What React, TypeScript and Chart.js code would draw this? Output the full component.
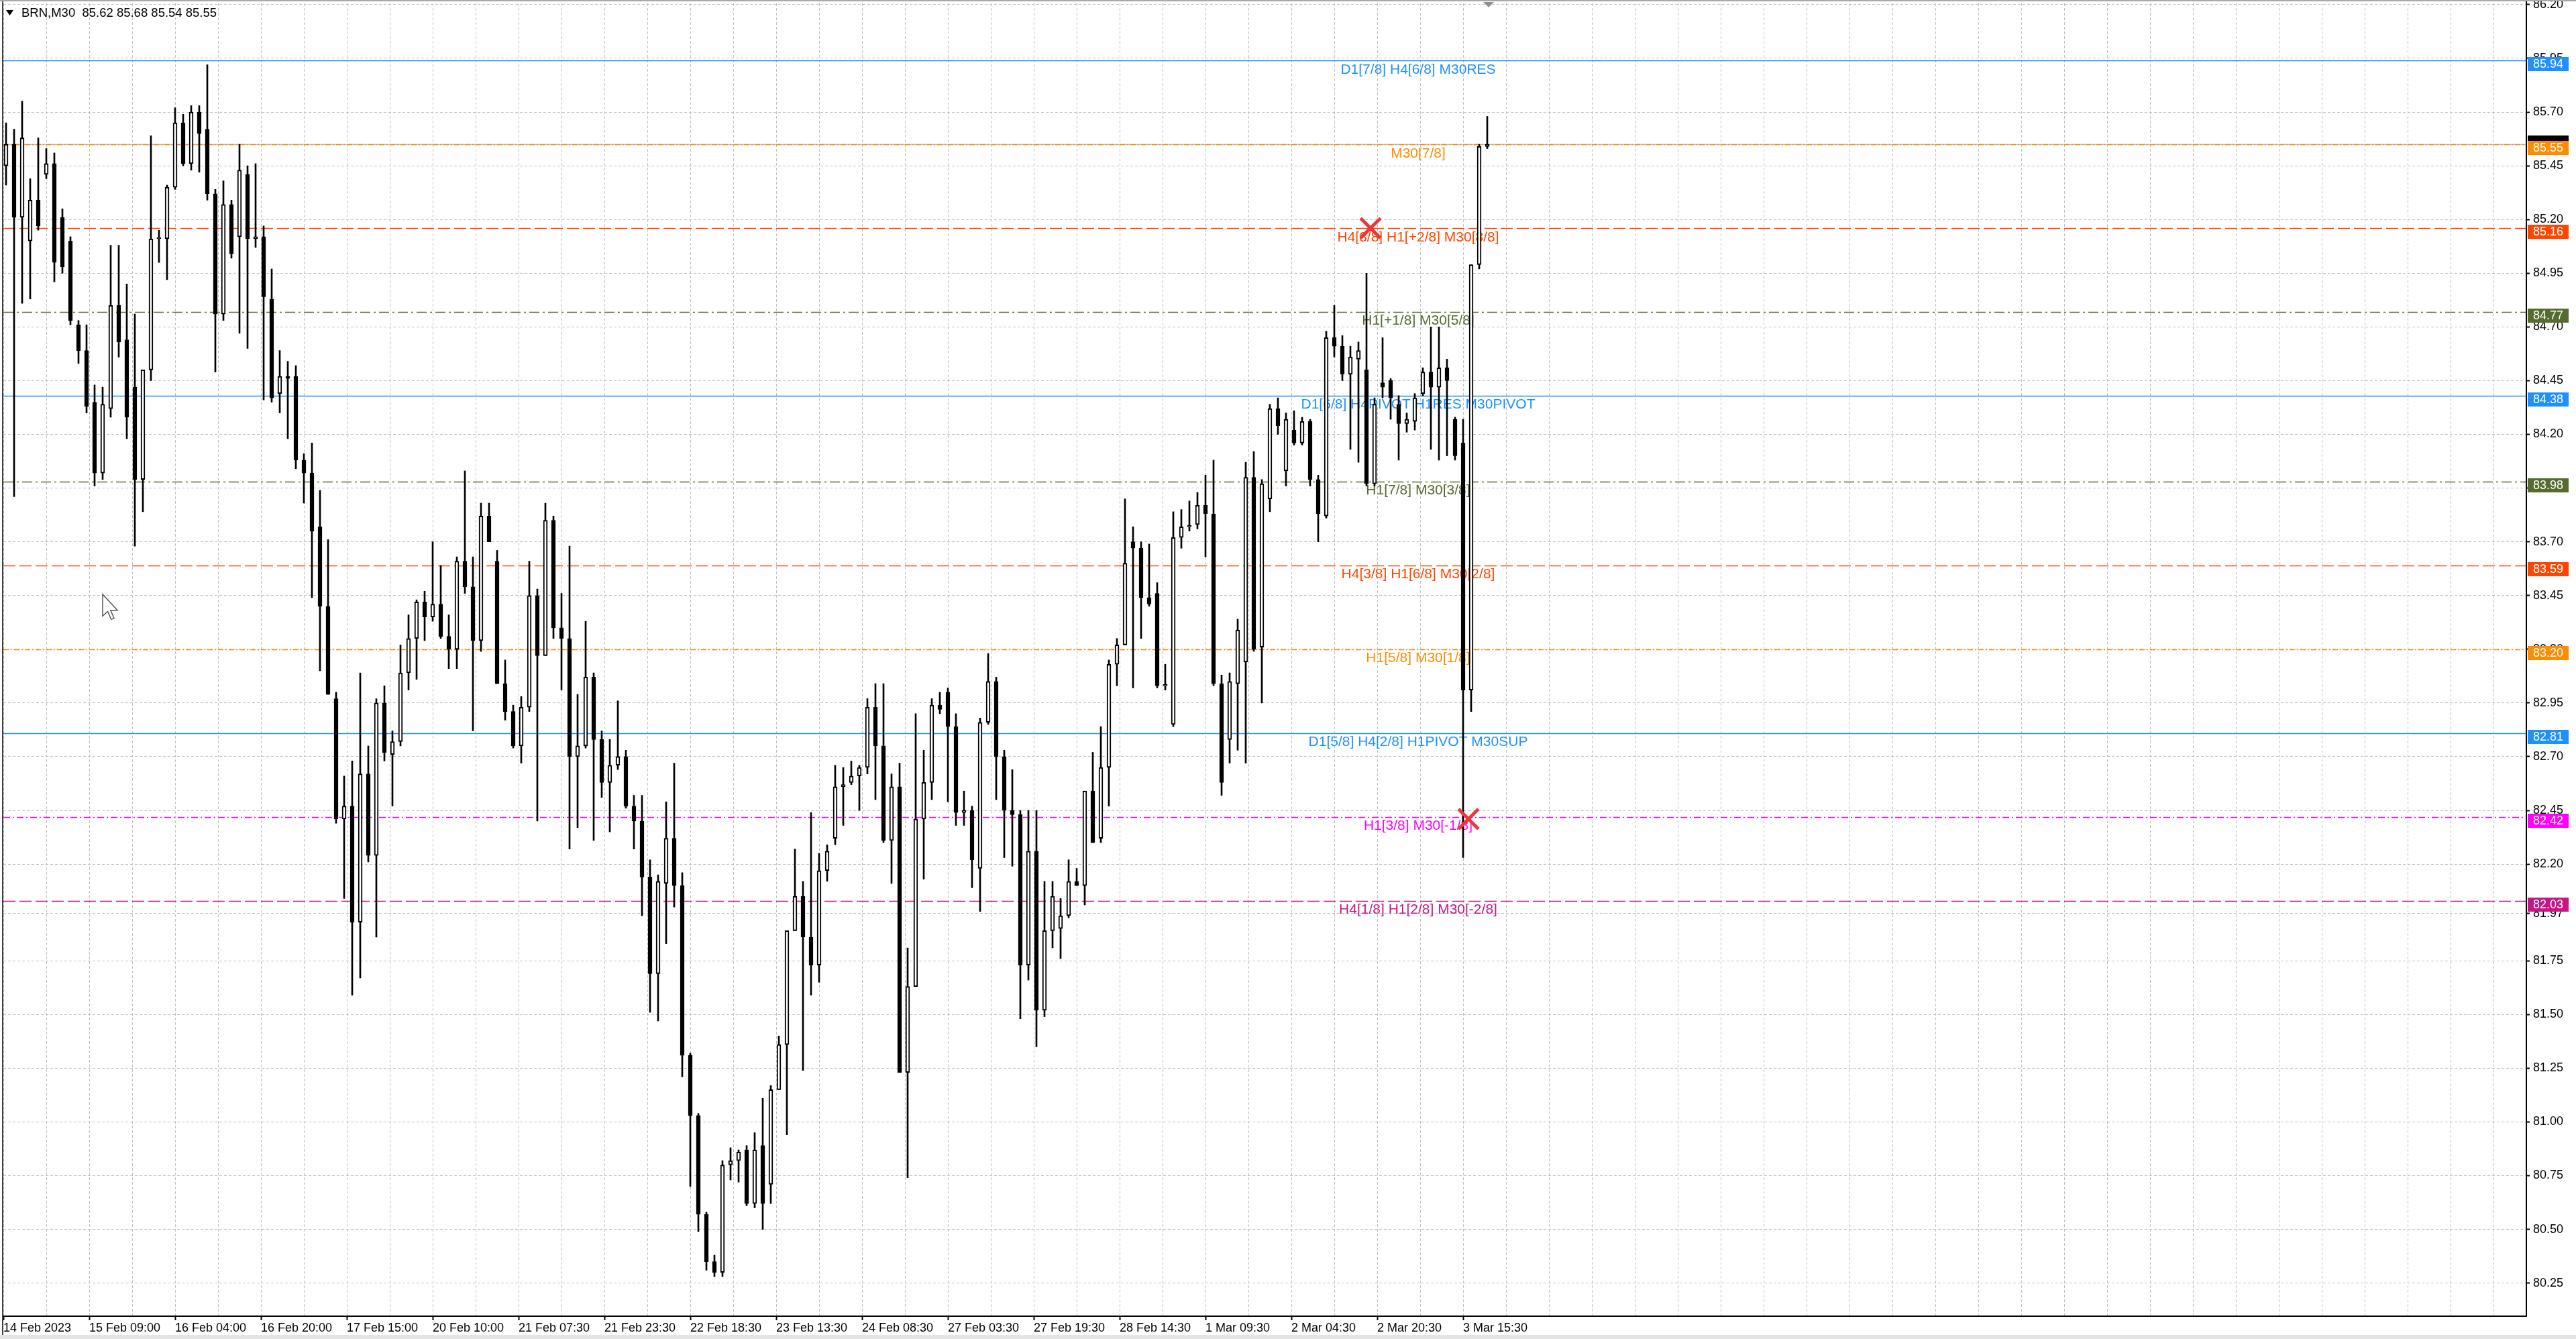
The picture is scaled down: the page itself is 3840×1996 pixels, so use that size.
import { useEffect, useRef } from 'react'
import { Chart, registerables } from 'chart.js'

Chart.register(...registerables)

const opens = [
  85.45, 85.55, 85.21, 85.10, 85.29, 85.41, 85.46, 85.21, 85.10, 84.71, 84.59, 84.35, 84.02, 84.32, 84.80, 84.64,
  84.42, 83.99, 84.50, 85.11, 85.11, 85.35, 85.65, 85.46, 85.70, 85.62, 85.32, 84.76, 85.27, 85.12, 85.41, 85.11,
  85.12, 84.83, 84.39, 84.47, 84.47, 84.08, 84.02, 83.77, 83.40, 82.97, 82.41, 82.47, 81.93, 82.62, 82.24, 82.95,
  82.71, 82.77, 83.09, 83.25, 83.42, 83.35, 83.41, 83.26, 83.20, 83.61, 83.49, 83.24, 83.82, 83.61, 83.04, 82.91,
  82.75, 82.93, 83.45, 83.17, 83.80, 83.30, 83.25, 82.70, 82.75, 83.07, 82.78, 82.58, 82.66, 82.70, 82.47, 82.40,
  82.14, 81.69, 82.11, 82.32, 82.10, 81.31, 81.03, 80.57, 80.35, 80.30, 80.80, 80.82, 80.87, 80.62, 80.89, 80.71,
  81.15, 81.36, 81.89, 82.05, 81.86, 81.73, 82.17, 82.32, 82.56, 82.58, 82.61, 82.65, 82.93, 82.75, 82.31, 82.56,
  81.23, 81.63, 82.41, 82.58, 82.94, 83.00, 82.84, 82.44, 82.45, 82.18, 82.86, 83.05, 82.70, 82.45, 82.43, 81.73,
  82.26, 81.52, 81.89, 81.90, 81.96, 82.12, 82.10, 82.54, 82.32, 82.65, 83.13, 83.22, 83.70, 83.67, 83.44, 83.46,
  83.03, 82.85, 83.72, 83.77, 83.78, 83.87, 83.83, 83.04, 82.78, 83.04, 83.14, 84.00, 83.21, 83.90, 84.32, 84.03,
  84.22, 84.16, 84.26, 83.99, 83.82, 84.65, 84.61, 84.48, 84.55, 84.50, 83.97, 84.44, 84.45, 84.34, 84.25, 84.26,
  84.39, 84.49, 84.42, 84.51, 84.27, 84.16, 83.01, 84.99, 85.54,
]
const highs = [
  85.65, 85.62, 85.75, 85.39, 85.58, 85.53, 85.51, 85.25, 85.12, 84.73, 84.71, 84.43, 84.42, 85.08, 85.08, 84.90,
  84.76, 84.28, 85.59, 85.15, 85.36, 85.72, 85.69, 85.73, 85.73, 85.92, 85.34, 85.38, 85.29, 85.55, 85.45, 85.46,
  85.17, 84.97, 84.59, 84.54, 84.52, 84.11, 84.16, 83.94, 83.71, 83.00, 82.61, 82.68, 83.09, 82.75, 82.97, 83.03,
  82.82, 83.22, 83.36, 83.43, 83.47, 83.70, 83.59, 83.36, 83.63, 84.03, 83.63, 83.88, 83.88, 83.66, 83.15, 82.94,
  82.98, 83.61, 83.48, 83.88, 83.82, 83.46, 83.68, 82.99, 83.33, 83.09, 82.82, 82.78, 82.96, 82.73, 82.52, 82.52,
  82.22, 82.15, 82.49, 82.67, 82.16, 81.32, 81.04, 80.58, 80.38, 80.82, 80.88, 80.87, 80.89, 80.95, 81.11, 81.17,
  81.40, 81.89, 82.27, 82.12, 82.44, 82.25, 82.29, 82.66, 82.65, 82.68, 82.66, 82.97, 83.04, 83.04, 82.62, 82.67,
  81.81, 82.90, 82.73, 82.97, 83.00, 83.02, 82.90, 82.54, 82.47, 82.88, 83.18, 83.07, 82.73, 82.64, 82.45, 82.45,
  82.45, 82.12, 82.12, 82.04, 82.22, 82.18, 82.54, 82.72, 82.84, 83.15, 83.25, 83.90, 83.77, 83.70, 83.69, 83.51,
  83.13, 83.84, 83.85, 83.89, 83.93, 84.01, 84.08, 83.08, 83.09, 83.34, 84.07, 84.12, 83.99, 84.34, 84.37, 84.30,
  84.31, 84.28, 84.27, 84.01, 84.68, 84.80, 84.66, 84.61, 84.63, 84.95, 84.37, 84.65, 84.46, 84.38, 84.30, 84.39,
  84.51, 84.70, 84.70, 84.55, 84.28, 84.27, 84.99, 85.55, 85.68,
]
const lows = [
  85.36, 83.91, 84.81, 84.83, 85.15, 85.39, 84.91, 84.95, 84.71, 84.53, 84.30, 83.96, 83.99, 84.28, 84.56, 84.18,
  83.68, 83.84, 84.45, 85.00, 84.92, 85.34, 85.45, 85.43, 85.42, 85.29, 84.49, 84.73, 85.02, 84.67, 84.60, 85.07,
  84.36, 84.35, 84.30, 84.18, 84.04, 83.88, 83.44, 83.10, 82.99, 82.39, 82.04, 81.59, 81.67, 82.21, 81.86, 82.68,
  82.47, 82.75, 83.01, 83.06, 83.24, 83.33, 83.25, 83.11, 83.11, 83.46, 82.82, 83.19, 83.70, 83.04, 82.87, 82.74,
  82.67, 82.91, 82.40, 83.17, 83.25, 83.01, 82.27, 82.37, 82.74, 82.31, 82.51, 82.35, 82.64, 82.46, 82.27, 81.96,
  81.51, 81.47, 81.83, 82.00, 81.21, 80.70, 80.49, 80.31, 80.28, 80.28, 80.73, 80.72, 80.61, 80.60, 80.50, 80.62,
  81.15, 80.94, 81.89, 81.24, 81.59, 81.65, 82.12, 82.29, 82.38, 82.57, 82.45, 82.62, 82.50, 82.30, 82.11, 81.23,
  80.74, 81.63, 82.13, 82.50, 82.90, 82.49, 82.38, 82.38, 82.09, 81.98, 82.85, 82.50, 82.23, 82.19, 81.48, 81.66,
  81.35, 81.49, 81.81, 81.76, 81.95, 82.10, 82.01, 82.30, 82.30, 82.47, 83.03, 83.22, 83.02, 83.25, 83.40, 83.02,
  83.01, 82.84, 83.67, 83.75, 83.76, 83.63, 83.03, 82.52, 82.67, 82.73, 82.67, 83.19, 82.95, 83.84, 84.20, 83.96,
  84.15, 84.15, 83.96, 83.70, 83.81, 84.56, 84.45, 84.13, 84.07, 83.96, 83.96, 84.37, 84.27, 84.08, 84.21, 84.22,
  84.38, 84.13, 84.08, 84.10, 84.08, 82.23, 82.91, 84.97, 85.53,
]
const closes = [
  85.55, 85.21, 85.58, 85.29, 85.17, 85.46, 85.00, 84.98, 84.73, 84.59, 84.33, 84.02, 84.34, 84.80, 84.63, 84.28,
  83.99, 84.50, 85.11, 85.11, 85.35, 85.65, 85.46, 85.70, 85.60, 85.32, 84.76, 85.27, 85.04, 85.43, 85.11, 85.12,
  84.84, 84.37, 84.47, 84.46, 84.08, 84.02, 83.75, 83.40, 82.99, 82.41, 82.47, 81.93, 82.62, 82.24, 82.95, 82.72,
  82.77, 83.09, 83.25, 83.42, 83.35, 83.41, 83.26, 83.20, 83.61, 83.49, 83.24, 83.82, 83.70, 83.04, 82.91, 82.75,
  82.93, 83.45, 83.17, 83.80, 83.30, 83.25, 82.70, 82.75, 83.07, 82.78, 82.58, 82.66, 82.70, 82.47, 82.40, 82.14,
  81.69, 82.12, 82.32, 82.10, 81.31, 81.03, 80.57, 80.35, 80.30, 80.80, 80.82, 80.86, 80.62, 80.87, 80.62, 81.15,
  81.36, 81.89, 82.05, 81.86, 81.73, 82.17, 82.26, 82.56, 82.57, 82.61, 82.65, 82.93, 82.75, 82.31, 82.56, 81.23,
  81.63, 82.41, 82.58, 82.94, 82.92, 82.84, 82.44, 82.45, 82.22, 82.86, 83.05, 82.70, 82.45, 82.43, 81.73, 82.26,
  81.52, 81.89, 82.05, 81.96, 82.12, 82.10, 82.54, 82.30, 82.65, 83.13, 83.22, 83.60, 83.67, 83.44, 83.41, 83.03,
  83.03, 83.72, 83.77, 83.77, 83.87, 83.83, 83.04, 82.58, 83.05, 83.29, 84.00, 83.20, 83.97, 84.32, 84.24, 84.27,
  84.16, 84.26, 83.99, 83.83, 84.65, 84.61, 84.48, 84.56, 84.59, 83.97, 84.34, 84.42, 84.37, 84.25, 84.27, 84.37,
  84.49, 84.42, 84.51, 84.45, 84.10, 83.01, 84.99, 85.54, 85.55,
]

const dateLabels = [
  '14 Feb 2023', '15 Feb 09:00', '16 Feb 04:00', '16 Feb 20:00', '17 Feb 15:00', '20 Feb 10:00',
  '21 Feb 07:30', '21 Feb 23:30', '22 Feb 18:30', '23 Feb 13:30', '24 Feb 08:30', '27 Feb 03:30',
  '27 Feb 19:30', '28 Feb 14:30', '1 Mar 09:30', '2 Mar 04:30', '2 Mar 20:30', '3 Mar 15:30',
]
const priceTicks = [
  86.2, 85.95, 85.7, 85.45, 85.2, 84.95, 84.7, 84.45, 84.2, 83.95, 83.7, 83.45, 83.2,
  82.95, 82.7, 82.45, 82.2, 81.97, 81.75, 81.5, 81.25, 81.0, 80.75, 80.5, 80.25,
]

// murrey-math style levels drawn by the indicator
const levelPrices = [85.94, 85.55, 85.16, 84.77, 84.38, 83.98, 83.59, 83.2, 82.81, 82.42, 82.03]
const levelNames = [
  'D1[7/8] H4[6/8] M30RES',
  'M30[7/8]',
  'H4[8/8] H1[+2/8] M30[8/8]',
  'H1[+1/8] M30[5/8]',
  'D1[6/8] H4PIVOT H1RES M30PIVOT',
  'H1[7/8] M30[3/8]',
  'H4[3/8] H1[6/8] M30[2/8]',
  'H1[5/8] M30[1/8]',
  'D1[5/8] H4[2/8] H1PIVOT M30SUP',
  'H1[3/8] M30[-1/8]',
  'H4[1/8] H1[2/8] M30[-2/8]',
]
const levelColors = [
  '#1e90ff', '#ff8c00', '#ff4500', '#556b2f', '#1e90ff', '#556b2f',
  '#ff4500', '#ff8c00', '#1e90ff', '#ff00ff', '#c71585',
]
const levelDashes = [
  [], [8, 3, 2, 3], [18, 6], [15, 5, 3, 5], [], [15, 5, 3, 5],
  [18, 6], [8, 3, 2, 3], [], [10, 4, 2, 4], [18, 6],
]

// red crosses (bar index, price)
const markBars = [509.5, 546]
const markPrices = [85.16, 82.41]

const header = 'BRN,M30  85.62 85.68 85.54 85.55'
const bidPrice = 85.55

const BARS_PER_CANDLE = 3
const BAR_PX = 4
const LABEL_EVERY = 32
const LABEL_BAR = 527.25
const SHIFT_BAR = 553.5
const FONT = '"Liberation Sans", Arial, sans-serif'

const overlay = {
  id: 'mt4Overlay',
  beforeDatasetsDraw(chart: any) {
    const { ctx, chartArea: a, scales } = chart
    const x = scales.x
    const y = scales.y
    ctx.save()
    ctx.beginPath()
    ctx.rect(a.left, a.top, a.right - a.left, a.bottom - a.top)
    ctx.clip()

    // bid line
    const by = Math.round(y.getPixelForValue(bidPrice)) + 0.5
    ctx.strokeStyle = '#c0c0c0'
    ctx.lineWidth = 1.5
    ctx.setLineDash([])
    ctx.beginPath()
    ctx.moveTo(a.left, by)
    ctx.lineTo(a.right, by)
    ctx.stroke()

    levelPrices.forEach((p, i) => {
      const ly = Math.round(y.getPixelForValue(p)) + 0.5
      ctx.strokeStyle = levelColors[i]
      ctx.lineWidth = 1.5
      ctx.setLineDash(levelDashes[i])
      ctx.beginPath()
      ctx.moveTo(a.left, ly)
      ctx.lineTo(a.right, ly)
      ctx.stroke()
    })
    ctx.setLineDash([])

    const lx = x.getPixelForValue(LABEL_BAR)
    ctx.font = `21px ${FONT}`
    ctx.textAlign = 'center'
    ctx.textBaseline = 'alphabetic'
    levelPrices.forEach((p, i) => {
      ctx.fillStyle = levelColors[i]
      ctx.fillText(levelNames[i], lx, y.getPixelForValue(p) + 19.5)
    })
    ctx.restore()
  },
  afterDraw(chart: any) {
    const { ctx, chartArea: a, scales, width } = chart
    const x = scales.x
    const y = scales.y
    ctx.save()

    // window frame
    ctx.fillStyle = '#e4e4e4'
    ctx.fillRect(0, 1990, width, 6)
    ctx.strokeStyle = '#a8a8a8'
    ctx.lineWidth = 2
    ctx.beginPath()
    ctx.moveTo(0, 1)
    ctx.lineTo(width, 1)
    ctx.stroke()
    ctx.strokeStyle = '#404040'
    ctx.beginPath()
    ctx.moveTo(4, 2)
    ctx.lineTo(4, 1990)
    ctx.stroke()

    // axis lines
    ctx.strokeStyle = '#000'
    ctx.lineWidth = 2
    ctx.beginPath()
    ctx.moveTo(a.right, 2)
    ctx.lineTo(a.right, a.bottom + 1)
    ctx.moveTo(4, a.bottom)
    ctx.lineTo(a.right, a.bottom)
    ctx.stroke()

    // price labels on the axis
    ctx.font = `18px ${FONT}`
    ctx.textAlign = 'left'
    ctx.textBaseline = 'middle'
    const bidY = Math.round(y.getPixelForValue(bidPrice))
    ctx.fillStyle = '#000'
    ctx.fillRect(a.right + 2, bidY - 13, 61, 21)
    levelPrices.forEach((p, i) => {
      const ly = Math.round(y.getPixelForValue(p))
      ctx.fillStyle = levelColors[i]
      ctx.fillRect(a.right + 2, ly - 5, 61, 21)
      ctx.fillStyle = '#fff'
      ctx.fillText(p.toFixed(2), a.right + 10, ly + 6)
    })

    // header
    ctx.fillStyle = '#000'
    ctx.beginPath()
    ctx.moveTo(9, 15)
    ctx.lineTo(20, 15)
    ctx.lineTo(14.5, 23)
    ctx.closePath()
    ctx.fill()
    ctx.font = `18.5px ${FONT}`
    ctx.fillText(header, 32, 20)

    // chart shift marker
    const sx = x.getPixelForValue(SHIFT_BAR)
    ctx.fillStyle = '#909090'
    ctx.beginPath()
    ctx.moveTo(sx - 8, 3)
    ctx.lineTo(sx + 8, 3)
    ctx.lineTo(sx, 11)
    ctx.closePath()
    ctx.fill()

    // mouse pointer
    const cx = 153
    const cy = 886
    const k = 1.7
    const pts = [[0, 0], [0, 19], [4.5, 15], [7.5, 22], [10, 21], [7, 14], [13, 14]]
    ctx.beginPath()
    pts.forEach(([px, py], i) => (i ? ctx.lineTo(cx + px * k, cy + py * k) : ctx.moveTo(cx + px * k, cy + py * k)))
    ctx.closePath()
    ctx.fillStyle = '#fff'
    ctx.fill()
    ctx.strokeStyle = '#555'
    ctx.lineWidth = 1.5
    ctx.stroke()

    ctx.restore()
  },
}

export default function App() {
  const canvasRef = useRef<HTMLCanvasElement | null>(null)
  const chartRef = useRef<Chart | null>(null)

  useEffect(() => {
    if (!canvasRef.current) return
    const ctx = canvasRef.current.getContext('2d')!

    const candleX = (i: number) => i * BARS_PER_CANDLE + 1
    const wicks = opens.map((_, i) => ({ x: candleX(i), y: [lows[i], highs[i]] }))
    const bodies = opens.map((o, i) => ({ x: candleX(i), y: [o, closes[i]] }))
    const bodyFill = opens.map((o, i) => (closes[i] >= o ? '#ffffff' : '#000000'))
    const marks = markBars.map((b, i) => ({ x: b, y: markPrices[i] }))

    const plotWidth = 3840 - 5 - 74
    const xMax = plotWidth / BAR_PX
    const xTicks: number[] = []
    for (let v = 0; v <= xMax; v += LABEL_EVERY / 2) xTicks.push(v)
    const hasLabel = (v: number) => v % LABEL_EVERY === 0 && v / LABEL_EVERY < dateLabels.length

    chartRef.current = new Chart(ctx, {
      type: 'bar',
      data: {
        datasets: [
          {
            type: 'scatter',
            data: marks,
            pointStyle: 'crossRot',
            pointRadius: 21,
            pointBorderWidth: 5,
            pointBorderColor: '#e8383d',
            pointBackgroundColor: '#e8383d',
            order: 0,
          } as any,
          {
            type: 'bar',
            data: bodies,
            backgroundColor: bodyFill,
            borderColor: '#000',
            borderWidth: 2,
            borderSkipped: false,
            barThickness: 6,
            minBarLength: 2,
            grouped: false,
            order: 1,
          } as any,
          {
            type: 'bar',
            data: wicks,
            backgroundColor: '#000',
            borderWidth: 0,
            barThickness: 2,
            grouped: false,
            order: 2,
          } as any,
        ],
      },
      options: {
        responsive: false,
        animation: false,
        devicePixelRatio: 1,
        events: [],
        layout: { autoPadding: false, padding: { left: 5, top: 5, right: 0, bottom: 0 } },
        plugins: {
          legend: { display: false },
          tooltip: { enabled: false },
        },
        scales: {
          x: {
            type: 'linear',
            position: 'bottom',
            min: 0,
            max: xMax,
            offset: false,
            grid: {
              color: '#c0c0c0',
              lineWidth: 1,
              offset: false,
              drawTicks: true,
              tickLength: 6,
              tickWidth: 2,
              tickColor: (c: any) => (c.tick && hasLabel(c.tick.value) ? '#000' : 'rgba(0,0,0,0)'),
            },
            border: { display: false, dash: [4, 3] },
            ticks: {
              autoSkip: false,
              maxRotation: 0,
              minRotation: 0,
              align: 'start',
              padding: 1,
              color: '#000',
              font: { family: FONT, size: 18 },
              callback: (v: any) => (hasLabel(v) ? dateLabels[v / LABEL_EVERY] : ''),
            },
            afterBuildTicks: (s: any) => {
              s.ticks = xTicks.map((v) => ({ value: v }))
            },
            afterFit: (s: any) => {
              s.height = 34
              s.paddingLeft = 0
              s.paddingRight = 0
            },
          },
          y: {
            type: 'linear',
            position: 'right',
            min: 80.096,
            max: 86.206,
            grid: {
              color: '#c0c0c0',
              lineWidth: 1,
              drawTicks: true,
              tickLength: 5,
              tickWidth: 2,
              tickColor: '#000',
            },
            border: { display: false, dash: [4, 3] },
            ticks: {
              padding: 5,
              color: '#000',
              font: { family: FONT, size: 18 },
              callback: (v: any) => Number(v).toFixed(2),
            },
            afterBuildTicks: (s: any) => {
              s.ticks = priceTicks.map((v) => ({ value: v }))
            },
            afterFit: (s: any) => {
              s.width = 74
              s.paddingTop = 0
              s.paddingBottom = 0
            },
          },
        },
      } as any,
      plugins: [overlay],
    })

    return () => chartRef.current?.destroy()
  }, [])

  return (
    <div style={{ position: 'absolute', left: 0, top: 0, width: 3840, height: 1996, background: '#fff' }}>
      <canvas ref={canvasRef} width={3840} height={1996} style={{ display: 'block' }} />
    </div>
  )
}
